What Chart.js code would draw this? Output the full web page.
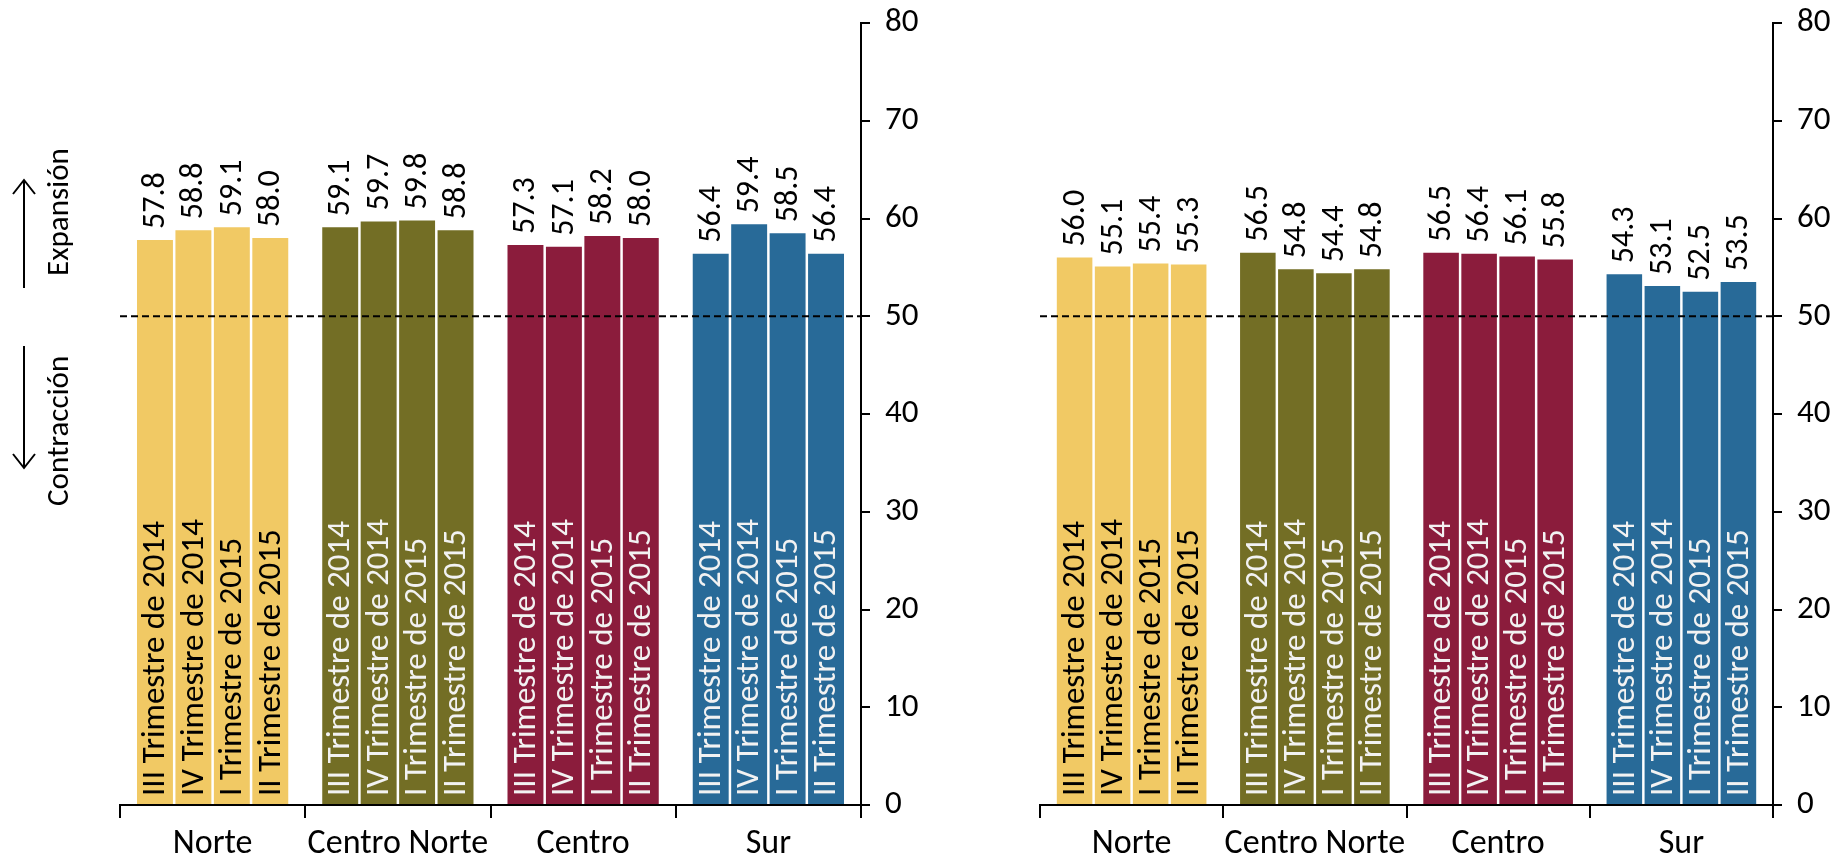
<!DOCTYPE html>
<html>
<head>
<meta charset="utf-8">
<script src="https://cdn.jsdelivr.net/npm/chart.js@4.4.1/dist/chart.umd.min.js"></script>
<style>
  html, body { margin: 0; padding: 0; background: #fff; }
  body { width: 1837px; height: 860px; position: relative; overflow: hidden; }
  canvas { position: absolute; top: 0; }
  #izq { left: 0; }
  #der { left: 940px; }
</style>
</head>
<body>
<canvas id="izq" width="940" height="860"></canvas>
<canvas id="der" width="897" height="860"></canvas>
<script>
const regiones = ['Norte', 'Centro Norte', 'Centro', 'Sur'];
const trimestres = ['III Trimestre de 2014', 'IV Trimestre de 2014', 'I Trimestre de 2015', 'II Trimestre de 2015'];
const yTicks = [0, 10, 20, 30, 40, 50, 60, 70, 80];
const umbral = 50;

// panel izquierdo
const izqNorte = [57.8, 58.8, 59.1, 58.0];
const izqCentroNorte = [59.1, 59.7, 59.8, 58.8];
const izqCentro = [57.3, 57.1, 58.2, 58.0];
const izqSur = [56.4, 59.4, 58.5, 56.4];

// panel derecho
const derNorte = [56.0, 55.1, 55.4, 55.3];
const derCentroNorte = [56.5, 54.8, 54.4, 54.8];
const derCentro = [56.5, 56.4, 56.1, 55.8];
const derSur = [54.3, 53.1, 52.5, 53.5];

const colores = ['#F1C964', '#736E25', '#8B1C3C', '#286A98'];
const coloresTexto = ['#000', '#f2f2f2', '#f2f2f2', '#f2f2f2'];
const FONT = 'Calibri, Carlito, Lato, sans-serif';

const buildDatasets = (porRegion) =>
  trimestres.map((t, q) => ({
    label: t,
    data: porRegion.map((serie) => serie[q]),
    backgroundColor: colores,
    borderWidth: 0,
    barPercentage: 0.935,
    categoryPercentage: 0.83,
  }));

// etiquetas de valor sobre la barra y trimestre dentro de la barra
const etiquetas = {
  id: 'etiquetas',
  afterDatasetsDraw(chart) {
    const ctx = chart.ctx;
    ctx.save();
    ctx.textBaseline = 'middle';
    ctx.textAlign = 'left';
    chart.data.datasets.forEach((ds, i) => {
      chart.getDatasetMeta(i).data.forEach((bar, j) => {
        ctx.save();
        ctx.font = '32px ' + FONT;
        ctx.translate(bar.x + 1, bar.y - 11);
        ctx.rotate(-Math.PI / 2);
        ctx.fillStyle = '#000';
        ctx.fillText(ds.data[j].toFixed(1), 0, 0);
        ctx.restore();

        ctx.save();
        ctx.font = '33px ' + FONT;
        ctx.translate(bar.x + 1, bar.base - 8);
        ctx.rotate(-Math.PI / 2);
        ctx.fillStyle = coloresTexto[j];
        ctx.fillText(ds.label, 0, 0);
        ctx.restore();
      });
    });

    // linea discontinua en 50
    const y = chart.scales.y.getPixelForValue(umbral);
    ctx.strokeStyle = '#000';
    ctx.lineWidth = 2;
    ctx.setLineDash([7, 4]);
    ctx.beginPath();
    ctx.moveTo(chart.chartArea.left, y);
    ctx.lineTo(chart.chartArea.right, y);
    ctx.stroke();
    ctx.restore();
  },
};

// flechas Expansion / Contraccion del panel izquierdo
const flechas = {
  id: 'flechas',
  afterDraw(chart) {
    const ctx = chart.ctx;
    ctx.save();
    ctx.strokeStyle = '#000';
    ctx.lineWidth = 2;
    ctx.beginPath();
    ctx.moveTo(24, 288);
    ctx.lineTo(24, 180);
    ctx.moveTo(13, 194);
    ctx.lineTo(24, 180);
    ctx.lineTo(35, 194);
    ctx.moveTo(24, 346);
    ctx.lineTo(24, 468);
    ctx.moveTo(13, 454);
    ctx.lineTo(24, 468);
    ctx.lineTo(35, 454);
    ctx.stroke();

    ctx.fillStyle = '#000';
    ctx.font = '31px ' + FONT;
    ctx.textBaseline = 'middle';
    ctx.textAlign = 'left';
    ctx.save();
    ctx.translate(60, 276);
    ctx.rotate(-Math.PI / 2);
    ctx.fillText('Expansión', 0, 0);
    ctx.restore();
    ctx.save();
    ctx.translate(60, 506);
    ctx.rotate(-Math.PI / 2);
    ctx.fillText('Contracción', 0, 0);
    ctx.restore();
    ctx.restore();
  },
};

const makeChart = (id, porRegion, padLeft, yWidth, yPad, extra) => {
  const ctx = document.getElementById(id).getContext('2d');
  return new Chart(ctx, {
    type: 'bar',
    data: {
      labels: regiones,
      datasets: buildDatasets(porRegion),
    },
    options: {
      responsive: false,
      animation: false,
      devicePixelRatio: 1,
      layout: { padding: { left: padLeft, top: 23, right: 0, bottom: 0 } },
      plugins: { legend: { display: false }, tooltip: { enabled: false } },
      scales: {
        x: {
          grid: {
            offset: true,
            drawOnChartArea: false,
            color: '#000',
            tickLength: 13,
            lineWidth: 2,
          },
          border: { color: '#000', width: 2 },
          ticks: { color: '#000', font: { family: FONT, size: 34 }, padding: 6, maxRotation: 0, autoSkip: false },
          afterFit: (scale) => {
            scale.height = 55;
            scale.paddingLeft = 0;
            scale.paddingRight = 0;
          },
        },
        y: {
          position: 'right',
          min: 0,
          max: 80,
          afterBuildTicks: (scale) => { scale.ticks = yTicks.map((v) => ({ value: v })); },
          grid: { drawOnChartArea: false, color: '#000', tickLength: 9, lineWidth: 2 },
          border: { color: '#000', width: 2 },
          ticks: { color: '#000', font: { family: FONT, size: 33 }, padding: yPad },
          afterFit: (scale) => {
            scale.width = yWidth;
            scale.paddingTop = 0;
            scale.paddingBottom = 0;
          },
        },
      },
    },
    plugins: [etiquetas].concat(extra),
  });
};

makeChart('izq', [izqNorte, izqCentroNorte, izqCentro, izqSur], 120, 79, 15, [flechas]);
makeChart('der', [derNorte, derCentroNorte, derCentro, derSur], 100, 64, 15, []);
</script>
</body>
</html>
